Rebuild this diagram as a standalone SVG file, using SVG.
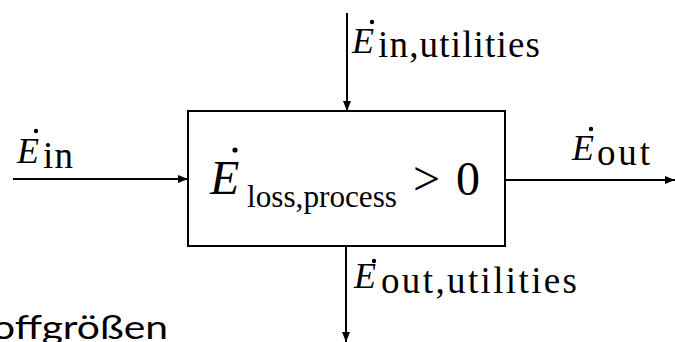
<svg xmlns="http://www.w3.org/2000/svg" width="675" height="342" viewBox="0 0 675 342">
<style>
.serif{font-family:"Liberation Serif","Times New Roman",serif;fill:#000}
.it{font-style:italic}
.e{font-size:36px}
.sub{font-size:37px}
.conn{stroke:#000;stroke-width:2;fill:none}
.box{stroke:#000;stroke-width:2;fill:#fff}
.dot{fill:#000}
.sans{font-family:"Lato","DejaVu Sans",sans-serif;fill:#000}
</style>
<defs>
<marker id="ah" viewBox="0 0 10 8" refX="10" refY="4" markerWidth="10" markerHeight="8" markerUnits="userSpaceOnUse" orient="auto">
<path d="M0,0 L10,4 L0,8 z" fill="#000"/>
</marker>
</defs>
<g id="connectors">
<line class="conn" x1="13" y1="179" x2="188" y2="179" marker-end="url(#ah)"/>
<line class="conn" x1="347" y1="13" x2="347" y2="111" marker-end="url(#ah)"/>
<line class="conn" x1="505" y1="180" x2="675" y2="180" marker-end="url(#ah)"/>
<line class="conn" x1="346" y1="247" x2="346" y2="342" marker-end="url(#ah)"/>
</g>
<g id="process">
<rect class="box" x="188" y="111" width="317" height="135"/>
<text class="serif it" x="210" y="194" font-size="48">E</text>
<circle class="dot" cx="235" cy="150" r="2.6"/>
<text class="serif" x="247" y="207" font-size="31" textLength="150" lengthAdjust="spacingAndGlyphs">loss,process</text>
<text class="serif" x="413" y="195" font-size="48">&gt;</text>
<text class="serif" x="456" y="195" font-size="48">0</text>
</g>
<g id="label-in">
<text class="serif it e" x="17" y="163">E</text>
<circle class="dot" cx="36" cy="131" r="2.2"/>
<text class="serif sub" x="43" y="168" textLength="30" lengthAdjust="spacing">in</text>
</g>
<g id="label-in-utilities">
<text class="serif it e" x="352" y="53">E</text>
<circle class="dot" cx="372" cy="22" r="2.2"/>
<text class="serif sub" x="378" y="57" textLength="162" lengthAdjust="spacing">in,utilities</text>
</g>
<g id="label-out">
<text class="serif it e" x="572" y="160">E</text>
<circle class="dot" cx="591" cy="129" r="2.2"/>
<text class="serif sub" x="597" y="165" textLength="53" lengthAdjust="spacing">out</text>
</g>
<g id="label-out-utilities">
<text class="serif it e" x="354" y="288">E</text>
<circle class="dot" cx="374" cy="261" r="2.2"/>
<text class="serif sub" x="381" y="293" textLength="196" lengthAdjust="spacing">out,utilities</text>
</g>
<g id="caption">
<text class="sans" x="-8" y="339" font-size="33" textLength="176" lengthAdjust="spacingAndGlyphs">offgrößen</text>
</g>
</svg>
